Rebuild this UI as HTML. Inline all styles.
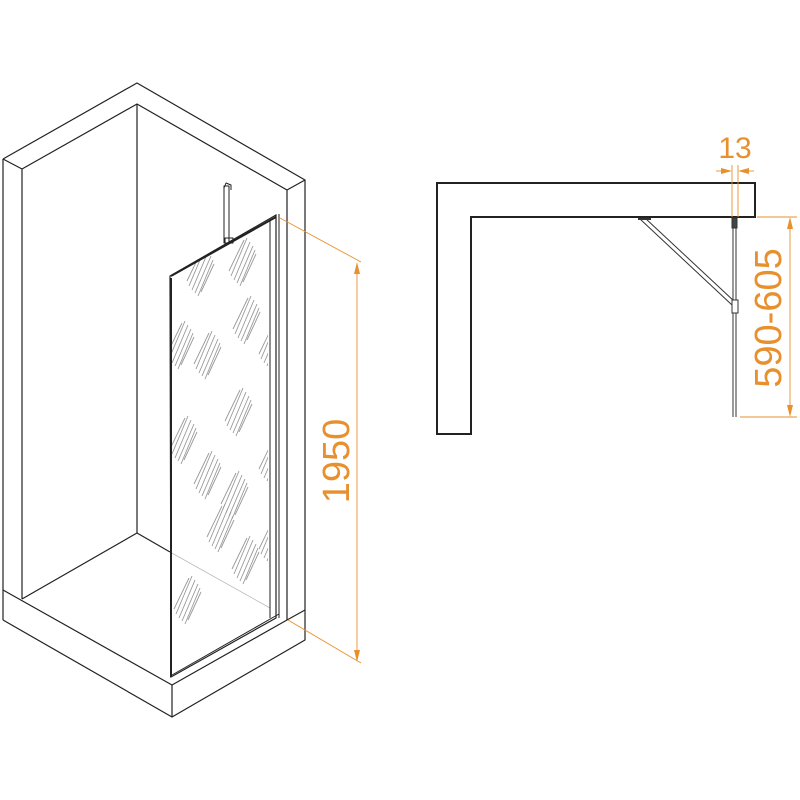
<!DOCTYPE html>
<html><head><meta charset="utf-8"><style>html,body{margin:0;padding:0;background:#fff}svg{display:block}</style></head>
<body>
<svg width="800" height="800" viewBox="0 0 800 800" xmlns="http://www.w3.org/2000/svg">
<defs>
<g id="h" stroke="#999" stroke-width="0.9" fill="none">
<line x1="-8" y1="18" x2="8" y2="-20"/><line x1="-5" y1="21" x2="11" y2="-16"/><line x1="-2" y1="24" x2="13" y2="-12"/><line x1="-11" y1="14" x2="5" y2="-24"/><line x1="1" y1="20" x2="14" y2="-8"/><line x1="-13" y1="9" x2="2" y2="-22"/>
</g>
<clipPath id="gc"><polygon points="172,276 268,221 268,618 172,677"/></clipPath>
</defs>
<g stroke="#222" stroke-width="1.2" fill="none" stroke-linejoin="round">
<polyline points="3,159 137,83 305,180 305,610"/>
<polyline points="22,599 22,169 137,104 287,190 287,620"/>
<line x1="3" y1="159" x2="22" y2="169"/>
<line x1="287" y1="190" x2="305" y2="180"/>
<line x1="137" y1="104" x2="137" y2="533"/>
<line x1="3" y1="159" x2="3" y2="620"/>
<polyline points="22,599 137,533 170,552"/>
<polyline points="3,590 172,685 287,620 305,610"/>
<polyline points="3,620 172,717 305,640 305,610"/>
<line x1="172" y1="685" x2="172" y2="717"/>
<rect x="224" y="186" width="5" height="57" stroke-width="1"/>
<path d="M224,188 L226,183 L231,185 L231,190" stroke-width="1"/>
<rect x="225" y="238" width="8" height="5" stroke-width="1"/>
</g>
<line x1="170" y1="552" x2="270" y2="608" stroke="#bbb" stroke-width="0.8"/>
<g clip-path="url(#gc)">
<use href="#h" x="200" y="272"/><use href="#h" x="242" y="262"/>
<use href="#h" x="180" y="345"/><use href="#h" x="207" y="355"/><use href="#h" x="246" y="320"/>
<use href="#h" x="183" y="440"/><use href="#h" x="207" y="475"/>
<use href="#h" x="238" y="412"/><use href="#h" x="220" y="528"/>
<use href="#h" x="245" y="560"/><use href="#h" x="187" y="600"/><use href="#h" x="234" y="495"/>
<use href="#h" x="272" y="345"/><use href="#h" x="272" y="460"/><use href="#h" x="272" y="540"/>
</g>
<g stroke="#222" fill="none">
<polygon points="170,276 276,215 276,618 171,677" stroke-width="1.2"/>
<line x1="171" y1="276" x2="276" y2="217" stroke-width="2"/>
<line x1="171" y1="278" x2="171" y2="677" stroke-width="2"/>
<line x1="270" y1="221" x2="270" y2="618" stroke-width="1"/>
<line x1="279" y1="214" x2="279" y2="618" stroke-width="1"/>
<line x1="172" y1="675" x2="279" y2="614" stroke-width="1"/>
</g>
<g stroke="#e8902e" stroke-width="0.9" fill="#e8902e">
<line x1="280" y1="218" x2="361" y2="262"/>
<line x1="288" y1="620" x2="361" y2="663"/>
<line x1="357" y1="264" x2="357" y2="660"/>
<polygon points="357,262 354,274 360,274" stroke="none"/>
<polygon points="357,662 354,650 360,650" stroke="none"/>
</g>
<text x="0" y="0" transform="translate(349,461) rotate(-90)" text-anchor="middle" font-family="Liberation Sans, sans-serif" font-size="38" fill="#e8902e">1950</text>
<g stroke="#222" stroke-width="2" fill="none">
<polygon points="437,183 755,183 755,217 471,217 471,434 437,434"/>
</g>
<g stroke="#333" fill="none" stroke-width="1">
<line x1="733" y1="217" x2="733" y2="417"/>
<line x1="736" y1="217" x2="736" y2="417"/>
<rect x="732" y="218" width="5" height="10" fill="#444"/>
<line x1="640" y1="219" x2="732" y2="305"/>
<line x1="645" y1="218" x2="735" y2="302"/>
<line x1="638" y1="219" x2="651" y2="219" stroke-width="2"/>
<rect x="732" y="300" width="6" height="13" fill="#fff"/>
</g>
<g stroke="#e8902e" stroke-width="0.9" fill="#e8902e">
<line x1="732" y1="165" x2="732" y2="217"/>
<line x1="738" y1="165" x2="738" y2="217"/>
<line x1="716" y1="171" x2="730" y2="171"/>
<line x1="740" y1="171" x2="754" y2="171"/>
<polygon points="732,171 721,168 721,174" stroke="none"/>
<polygon points="738,171 749,168 749,174" stroke="none"/>
<line x1="757" y1="217" x2="797" y2="217"/>
<line x1="740" y1="417" x2="797" y2="417"/>
<line x1="790" y1="219" x2="790" y2="415"/>
<polygon points="790,217 787,229 793,229" stroke="none"/>
<polygon points="790,417 787,405 793,405" stroke="none"/>
</g>
<text x="735" y="158" text-anchor="middle" font-family="Liberation Sans, sans-serif" font-size="30" fill="#e8902e">13</text>
<text x="0" y="0" transform="translate(781,318) rotate(-90)" text-anchor="middle" font-family="Liberation Sans, sans-serif" font-size="38" fill="#e8902e">590-605</text>
</svg>
</body></html>
